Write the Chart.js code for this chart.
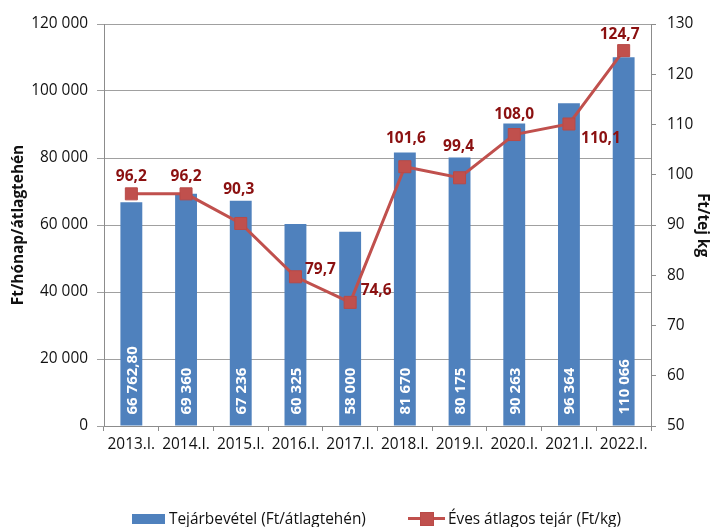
<!DOCTYPE html>
<html>
<head>
<meta charset="utf-8">
<script src="https://cdn.jsdelivr.net/npm/chart.js@4/dist/chart.umd.min.js"></script>
<style>
  body { margin: 0; background: #fff; }
  #wrap { position: relative; width: 717px; height: 527px; }
  #legend {
    position: absolute; left: 132px; top: 508px;
    display: flex; align-items: center;
    font-family: 'Open Sans', sans-serif; font-size: 15.4px; color: #111;
    white-space: nowrap;
  }
  .box { display: inline-block; width: 33px; height: 10px; background: #4F81BD; margin-right: 4px; }
  .linemark { position: relative; display: inline-block; width: 37px; height: 13px; margin: 0 3px 0 42px; }
  .linemark:before { content: ""; position: absolute; left: 0; right: 0; top: 5px; height: 3px; background: #C0504D; }
  .linemark:after { content: ""; position: absolute; left: 12px; top: 0; width: 12px; height: 12px; background: #C0504D; border: 1px solid #B94A47; }
</style>
</head>
<body>
<div id="wrap">
  <canvas id="chart" width="717" height="527"></canvas>
  <div id="legend">
    <span class="box"></span><span>Tejárbevétel (Ft/átlagtehén)</span>
    <span class="linemark"></span><span>Éves átlagos tejár (Ft/kg)</span>
  </div>
</div>
<script>
const years = ['2013.I.', '2014.I.', '2015.I.', '2016.I.', '2017.I.', '2018.I.', '2019.I.', '2020.I.', '2021.I.', '2022.I.'];
const revenue = [66762.8, 69360, 67236, 60325, 58000, 81670, 80175, 90263, 96364, 110066];
const revenueText = ['66 762,80', '69 360', '67 236', '60 325', '58 000', '81 670', '80 175', '90 263', '96 364', '110 066'];
const milkPrice = [96.2, 96.2, 90.3, 79.7, 74.6, 101.6, 99.4, 108.0, 110.1, 124.7];

const FONT = "'Open Sans', sans-serif";
const GRID = '#A0A0A0';
const AXIS = '#8C8C8C';
const TXT = '#111';

// where each price label sits relative to its marker
const priceOffsets = [[0, -17], [0, -17], [-2, -34], [25, -7], [26, -12], [1, -28], [-1, -31], [0, -20], [32, 15], [-4, -16]];

function spaced(v) {
    return String(v).replace(/\B(?=(\d{3})+(?!\d))/g, ' ');
}

const labelPlugin = {
    id: 'labels',
    afterDatasetsDraw(chart) {
        const ctx = chart.ctx;
        const bars = chart.getDatasetMeta(0).data;
        ctx.save();
        ctx.font = 'bold 15px ' + FONT;
        ctx.fillStyle = '#ffffff';
        ctx.textAlign = 'left';
        ctx.textBaseline = 'middle';
        bars.forEach(function (bar, i) {
            ctx.save();
            ctx.translate(bar.x, bar.base - 11);
            ctx.rotate(-Math.PI / 2);
            ctx.fillText(revenueText[i], 0, 1);
            ctx.restore();
        });

        const points = chart.getDatasetMeta(1).data;
        ctx.font = 'bold 15.5px ' + FONT;
        ctx.fillStyle = '#8B1010';
        ctx.textAlign = 'center';
        points.forEach(function (p, i) {
            const txt = milkPrice[i].toFixed(1).replace('.', ',');
            ctx.fillText(txt, p.x + priceOffsets[i][0], p.y + priceOffsets[i][1]);
        });
        ctx.restore();
    }
};

new Chart(document.getElementById('chart'), {
    data: {
        labels: years,
        datasets: [
            {
                type: 'bar',
                label: 'Tejárbevétel (Ft/átlagtehén)',
                data: revenue,
                yAxisID: 'y',
                backgroundColor: '#4F81BD',
                barPercentage: 0.4,
                categoryPercentage: 1.0,
                order: 2
            },
            {
                type: 'line',
                label: 'Éves átlagos tejár (Ft/kg)',
                data: milkPrice,
                yAxisID: 'y1',
                borderColor: '#C0504D',
                borderWidth: 3,
                pointStyle: 'rect',
                pointRadius: 8.5,
                pointBackgroundColor: '#C0504D',
                pointBorderColor: '#B94A47',
                pointBorderWidth: 1,
                tension: 0,
                order: 1
            }
        ]
    },
    options: {
        responsive: false,
        animation: false,
        layout: { padding: { top: 24, left: 0, right: 0, bottom: 0 } },
        plugins: {
            legend: { display: false },
            tooltip: { enabled: false }
        },
        scales: {
            x: {
                grid: { display: true, drawOnChartArea: false, tickLength: 5, color: AXIS, offset: true },
                border: { color: AXIS },
                ticks: { color: TXT, font: { family: FONT, size: 15.4 }, padding: 4, maxRotation: 0 },
                afterFit(scale) { scale.height = 101; }
            },
            y: {
                position: 'left',
                min: 0,
                max: 120000,
                grid: { color: GRID, tickLength: 7 },
                border: { color: AXIS },
                ticks: {
                    stepSize: 20000,
                    color: TXT,
                    font: { family: FONT, size: 15.4 },
                    padding: 9,
                    callback: function (v) { return spaced(v); }
                },
                title: {
                    display: true,
                    text: 'Ft/hónap/átlagtehén',
                    color: TXT,
                    font: { family: FONT, size: 15.4, weight: 'bold' },
                    padding: { top: 9, bottom: 0 }
                },
                afterFit(scale) { scale.width = 104; }
            },
            y1: {
                position: 'right',
                min: 50,
                max: 130,
                grid: { drawOnChartArea: false, color: AXIS, tickLength: 5 },
                border: { color: AXIS },
                ticks: {
                    stepSize: 10,
                    color: TXT,
                    font: { family: FONT, size: 15.4 },
                    padding: 11
                },
                title: {
                    display: true,
                    text: 'Ft/tej kg',
                    color: TXT,
                    font: { family: FONT, size: 15.4, weight: 'bold' },
                    padding: { top: 5, bottom: 0 }
                },
                afterFit(scale) { scale.width = 66; }
            }
        }
    },
    plugins: [labelPlugin]
});
</script>
</body>
</html>
